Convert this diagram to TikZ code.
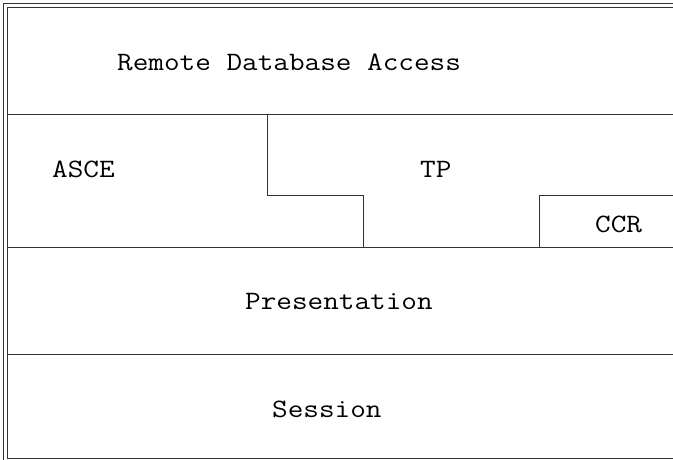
\documentclass[tikz,border=0pt]{standalone}
\usepackage{fontspec}
\usepackage{graphicx}
\newcommand{\wide}[1]{\scalebox{1.145}[1]{#1}}
\begin{document}
\begin{tikzpicture}[x=1pt,y=-1pt,
  rule/.style={draw=black!80,line width=0.9pt},
  lbl/.style={font=\ttfamily\fontsize{26.5}{28}\selectfont,inner sep=0pt,anchor=base west}]
\useasboundingbox (0,0) rectangle (673,460);
\fill[white] (0,0) rectangle (673,460);
% outer and inner frame
\draw[rule] (3,470) -- (3,3) -- (690,3);
\draw[rule] (690,7) -- (7,7) -- (7,458) -- (690,458);
% layer separators
\draw[rule] (7,114) -- (690,114);
\draw[rule] (7,247) -- (690,247);
\draw[rule] (7,354) -- (690,354);
% ASCE / TP / CCR boundaries
\draw[rule] (267,114) -- (267,195) -- (363,195) -- (363,247);
\draw[rule] (539,247) -- (539,195) -- (690,195);
% labels
\node[lbl] (rda) at (117,71) {\wide{Remote Database Access}};
\node[lbl] (asce) at (52,177) {\wide{ASCE}};
\node[lbl] (tp) at (420,177) {\wide{TP}};
\node[lbl] (ccr) at (595,233) {\wide{CCR}};
\node[lbl] (pres) at (245,309) {\wide{Presentation}};
\node[lbl] (sess) at (272,417) {\wide{Session}};
\end{tikzpicture}
\end{document}
